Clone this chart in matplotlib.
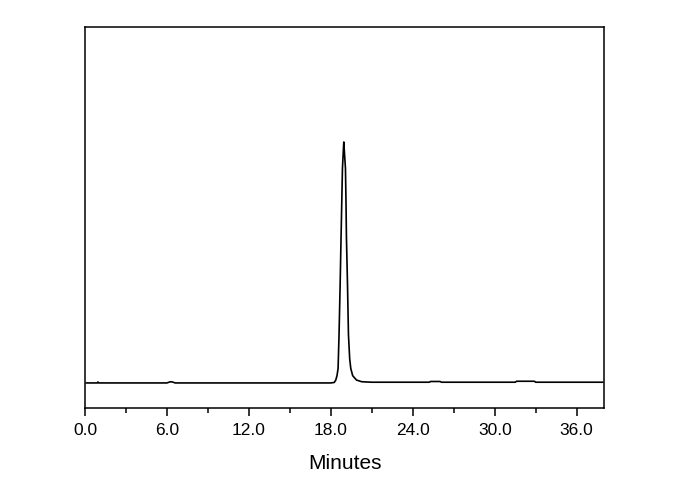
import numpy as np
import matplotlib
matplotlib.use("Agg")
from matplotlib import pyplot as plt
from matplotlib.ticker import MultipleLocator

# chromatogram trace (time in minutes, signal in arbitrary units)
minutes = [0.1, 0.9, 0.95, 1.0, 6.0, 6.2, 6.3, 6.45, 6.6, 18.0, 18.25, 18.36, 18.45,
           18.53, 18.60, 18.68, 18.75, 18.80, 18.85, 18.92, 18.95, 18.98, 19.07, 19.11,
           19.14, 19.22, 19.29, 19.38, 19.46, 19.6, 19.88, 20.26, 21.0, 25.2, 25.3,
           26.0, 26.1, 31.5, 31.6, 32.9, 33.0, 37.9]
signal = [0.0, 0.0, 0.4, 0.0, 0.0, 0.4, 0.5, 0.3, 0.0, 0.0, 0.2, 1.2, 3.0,
          6.0, 20.0, 40.6, 61.0, 75.0, 89.0, 97.0, 100.0, 97.0, 89.0, 75.0,
          61.0, 40.6, 20.0, 10.0, 6.0, 3.0, 1.2, 0.5, 0.3, 0.3, 0.6,
          0.6, 0.3, 0.3, 0.7, 0.7, 0.3, 0.3]

xticks = [0.0, 6.0, 12.0, 18.0, 24.0, 30.0, 36.0]

plt.rcParams["font.family"] = ["Liberation Sans", "DejaVu Sans"]

fig = plt.figure(figsize=(6.9, 4.9), dpi=100)
ax = fig.add_axes([85 / 690, 82 / 490, 519 / 690, 381 / 490])

ax.plot(minutes, signal, color="black", linewidth=1.2)

ax.set_xlim(0, 38.0)
ax.set_ylim(-10.4, 147.7)
ax.set_xticks(xticks)
ax.set_xticklabels(["%.1f" % t for t in xticks])
ax.xaxis.set_minor_locator(MultipleLocator(3.0))
ax.set_yticks([])
ax.tick_params(axis="x", which="major", direction="out", length=6, width=1.1,
               labelsize=12.5, pad=5)
ax.tick_params(axis="x", which="minor", direction="out", length=3.5, width=1.1)
for s in ax.spines.values():
    s.set_linewidth(1.1)

ax.set_xlabel("Minutes", fontsize=15, labelpad=11)

fig.savefig("out.png", dpi=100)
